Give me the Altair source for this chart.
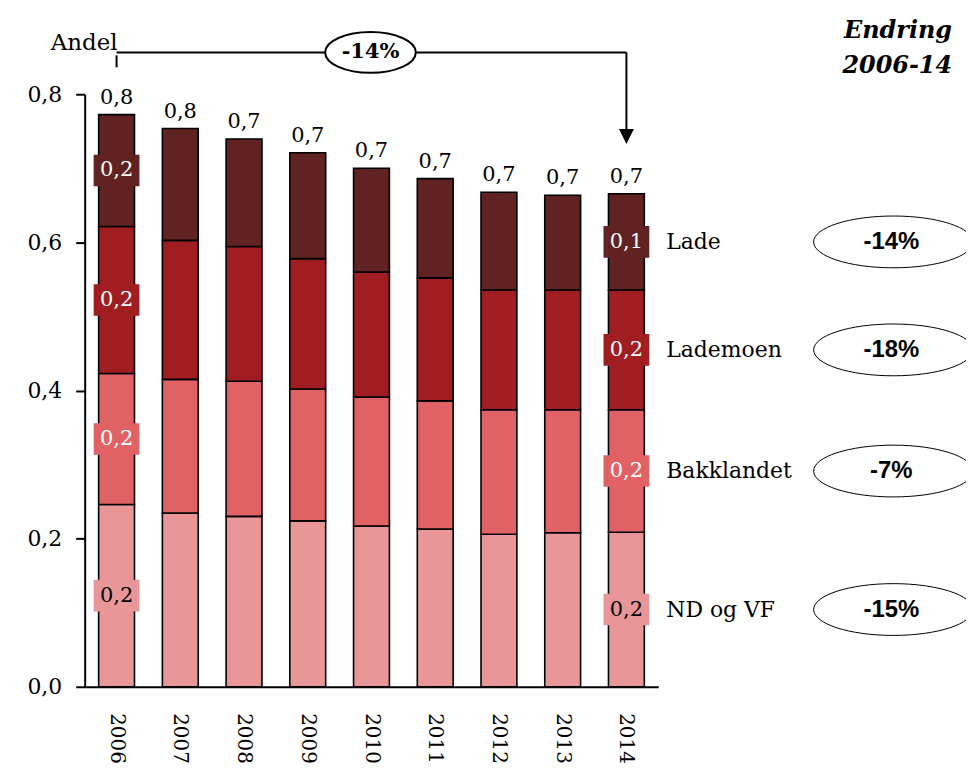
import altair as alt
import pandas as pd

# ---------------- data ----------------
years = ["2006", "2007", "2008", "2009", "2010", "2011", "2012", "2013", "2014"]
segments = ["ND og VF", "Bakklandet", "Lademoen", "Lade"]  # bottom -> top
nd_vf = [0.246, 0.2345, 0.230, 0.224, 0.217, 0.213, 0.206, 0.208, 0.2085]
bakklandet = [0.177, 0.1805, 0.1825, 0.178, 0.174, 0.173, 0.168, 0.166, 0.1655]
lademoen = [0.1985, 0.1877, 0.182, 0.176, 0.169, 0.166, 0.1616, 0.1616, 0.1616]
lade = [0.151, 0.151, 0.145, 0.143, 0.140, 0.134, 0.132, 0.128, 0.130]
changes = ["-15%", "-7%", "-18%", "-14%"]  # per segment, 2006-14
total_change = "-14%"
labelled_years = ["2006", "2014"]

colors = ["#E99699", "#E06265", "#A01E22", "#612222"]
FONT = "DejaVu Serif"

# ---------------- tables ----------------
series = [nd_vf, bakklandet, lademoen, lade]
rows = []
totals = []
for i, yr in enumerate(years):
    base = 0.0
    for s, name in enumerate(segments):
        v = series[s][i]
        rows.append({
            "year": yr, "segment": name, "value": v,
            "y0": base, "y1": base + v, "mid": base + v / 2,
            "label": f"{v:.1f}".replace(".", ","),
            "change": changes[s],
        })
        base += v
    totals.append({"year": yr, "total": base,
                   "label": f"{base:.1f}".replace(".", ",")})
seg_df = pd.DataFrame(rows)
tot_df = pd.DataFrame(totals)
lab_df = seg_df[seg_df["year"].isin(labelled_years)]
last_df = seg_df[seg_df["year"] == years[-1]]
ends_df = pd.DataFrame({"year": [years[0], years[-1]]})
first_df = pd.DataFrame({"year": [years[0]]})
last_year_df = pd.DataFrame({"year": [years[-1]]})
one = pd.DataFrame({"k": [0]})

# ---------------- encodings ----------------
x_scale = alt.Scale(domain=years, paddingInner=0.4375, paddingOuter=0.219)
x_axis = alt.Axis(
    title=None, domainColor="black", domainWidth=2, ticks=False,
    labelAngle=90, labelAlign="left", labelBaseline="middle",
    labelPadding=26, labelFont=FONT, labelFontSize=20, labelColor="black",
    grid=False,
)
y_scale = alt.Scale(domain=[0, 0.8], nice=False, zero=True)
y_axis = alt.Axis(
    title=None, values=[0, 0.2, 0.4, 0.6, 0.8], format=".1f",
    labelExpr="replace(datum.label, '.', ',')",
    domainColor="black", domainWidth=2, tickColor="black", tickWidth=2,
    tickSize=9, labelPadding=14, labelFont=FONT, labelFontSize=22,
    labelColor="black", grid=False,
)


def X():
    return alt.X("year:N", sort=years, scale=x_scale, axis=x_axis, title=None)


def Y(field):
    return alt.Y(f"{field}:Q", scale=y_scale, axis=y_axis, title=None)


color_enc = alt.Color("segment:N", scale=alt.Scale(domain=segments, range=colors), legend=None)

rect_path = "M-1,-0.69L1,-0.69L1,0.69L-1,0.69Z"


def ellipse_path(ry):
    k = 0.5523
    kr = k * ry
    return (f"M-1,0C-1,{-kr:.4f},{-k},{-ry:.4f},0,{-ry:.4f}"
            f"C{k},{-ry:.4f},1,{-kr:.4f},1,0"
            f"C1,{kr:.4f},{k},{ry:.4f},0,{ry:.4f}"
            f"C{-k},{ry:.4f},-1,{kr:.4f},-1,0Z")


# ---------------- layers ----------------
bars = alt.Chart(seg_df).mark_bar(stroke="black", strokeWidth=1.6).encode(
    x=X(), y=Y("y1"), y2="y0", color=color_enc
)

boxes = alt.Chart(lab_df).mark_point(
    shape=rect_path, size=2116, filled=True, opacity=1, strokeWidth=0
).encode(x=X(), y=Y("mid"), color=color_enc)

box_text = alt.Chart(lab_df).mark_text(
    font=FONT, fontSize=21, baseline="middle", align="center"
).encode(
    x=X(), y=Y("mid"), text="label:N",
    color=alt.condition("datum.segment == 'ND og VF'", alt.value("black"), alt.value("white")),
)

tot_text = alt.Chart(tot_df).mark_text(
    font=FONT, fontSize=21, baseline="alphabetic", align="center", dy=-11, color="black"
).encode(x=X(), y=Y("total"), text="label:N")

seg_names = alt.Chart(last_df).mark_text(
    font=FONT, fontSize=22, baseline="middle", align="left", dx=40, color="black"
).encode(x=X(), y=Y("mid"), text="segment:N")

right_ell = alt.Chart(last_df).mark_point(
    shape=ellipse_path(0.325), size=25600, filled=False, stroke="black",
    strokeWidth=1, opacity=1
).encode(x=alt.value(812), y=Y("mid"))

right_txt = alt.Chart(last_df).mark_text(
    font="Liberation Sans", fontWeight="bold", fontSize=24, baseline="middle",
    align="center", color="black"
).encode(x=alt.value(810), y=Y("mid"), text="change:N")

# top annotation
andel = alt.Chart(one).mark_text(
    text="Andel", font=FONT, fontSize=23, align="right", baseline="alphabetic", color="black"
).encode(x=alt.value(33), y=alt.value(-44))

hline = alt.Chart(ends_df).mark_line(color="black", strokeWidth=2).encode(
    x=X(), y=alt.value(-42)
)
vline = alt.Chart(last_year_df).mark_rule(color="black", strokeWidth=2).encode(
    x=X(), y=alt.value(-42), y2=alt.value(36)
)
tick0 = alt.Chart(first_df).mark_rule(color="black", strokeWidth=2).encode(
    x=X(), y=alt.value(-39), y2=alt.value(-27)
)
arrow = alt.Chart(last_year_df).mark_point(
    shape="M-1,-1L1,-1L0,1Z", size=225, filled=True, color="black", opacity=1
).encode(x=X(), y=alt.value(42.5))

top_ell = alt.Chart(one).mark_point(
    shape=ellipse_path(0.45), size=8281, filled=True, fill="white",
    stroke="black", strokeWidth=2, opacity=1
).encode(x=alt.value(287), y=alt.value(-42))

top_txt = alt.Chart(one).mark_text(
    text=total_change, font=FONT, fontWeight="bold", fontSize=21,
    baseline="middle", align="center", color="black"
).encode(x=alt.value(287), y=alt.value(-42))

endring = alt.Chart(one).mark_text(
    text="Endring", font=FONT, fontWeight="bold", fontStyle="italic",
    fontSize=24, align="right", baseline="alphabetic", color="black"
).encode(x=alt.value(871), y=alt.value(-56))

periode = alt.Chart(one).mark_text(
    text="2006-14", font=FONT, fontWeight="bold", fontStyle="italic",
    fontSize=24, align="right", baseline="alphabetic", color="black"
).encode(x=alt.value(871), y=alt.value(-21))

chart = alt.layer(
    bars, boxes, box_text, tot_text, seg_names, right_ell, right_txt,
    hline, vline, tick0, arrow, top_ell, top_txt, andel, endring, periode,
).properties(
    width=576, height=595,
    autosize=alt.AutoSizeParams(type="none"),
    padding={"left": 77, "top": 85, "right": 309, "bottom": 79},
).configure(font=FONT).configure_view(stroke=None)

chart.save("out.html", embed_options={"renderer": "svg", "actions": False})
